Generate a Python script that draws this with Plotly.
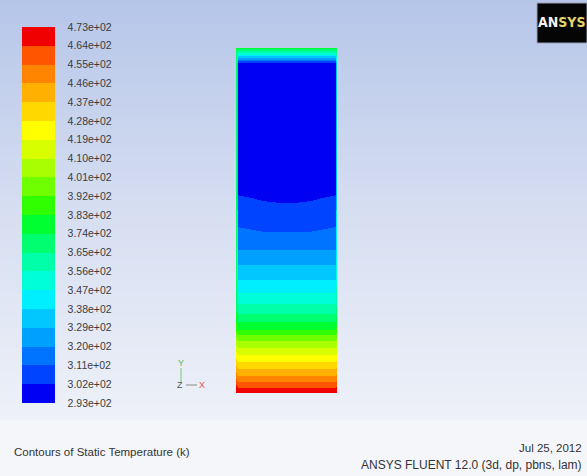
import plotly.graph_objects as go

# ---------------- data ----------------
# legend levels (K) and their labels
level_values = [293, 302, 311, 320, 329, 338, 347, 356, 365, 374, 383,
                392, 401, 410, 419, 428, 437, 446, 455, 464, 473]
level_labels = ["2.93e+02", "3.02e+02", "3.11e+02", "3.20e+02", "3.29e+02",
                "3.38e+02", "3.47e+02", "3.56e+02", "3.65e+02", "3.74e+02",
                "3.83e+02", "3.92e+02", "4.01e+02", "4.10e+02", "4.19e+02",
                "4.28e+02", "4.37e+02", "4.46e+02", "4.55e+02", "4.64e+02",
                "4.73e+02"]

# normalised height along the column (0 = bottom, 1 = top)
height = [0.000, 0.015, 0.032, 0.049, 0.070, 0.090, 0.110, 0.130, 0.151,
          0.168, 0.183, 0.206, 0.229, 0.258, 0.290, 0.328, 0.371, 0.414,
          0.467, 0.516, 0.551, 0.574, 0.704, 0.849, 0.957, 0.962, 0.974,
          0.986, 1.000]
# normalised position across the column
across = [0.0, 0.02, 0.25, 0.5, 0.75, 0.98, 1.0]

# static temperature (K) read at each height
temp_center = [470, 464, 455, 446, 437, 428, 419, 410, 401, 392, 383, 374,
               365, 356, 347, 338, 329, 320, 311, 305.7, 302, 300, 297, 296,
               300, 310, 330, 355, 375]
temp_quarter = [470, 464, 455, 446, 437, 428, 419, 410, 401, 392, 383, 374,
                365, 356, 347, 338, 329, 320, 311.3, 306.2, 302.5, 301, 297.5,
                296, 300, 310, 330, 355, 375]
temp_nearwall = [470, 464, 455, 446, 437, 428, 419, 410, 401, 392, 383, 374,
                 365, 356, 347, 338, 329, 320, 312.6, 307.5, 304.2, 302,
                 298.5, 296.5, 300, 310, 330, 355, 375]
temp_wall = [472, 469, 460, 451, 442, 433, 424, 415, 406, 397, 390, 382,
             375, 370, 370, 370, 370, 370, 370, 370, 370, 370, 370, 370,
             370, 370, 370, 372, 375]

# ---------------- styles ----------------
band_colors = ["#0000f2", "#0044ff", "#0074ff", "#00a0ff", "#00c8ff",
               "#00efff", "#00ffd8", "#00ffa8", "#00ff70", "#00ff30",
               "#30ff00", "#70ff00", "#a8ff00", "#d8ff00", "#ffff00",
               "#ffd800", "#ffb000", "#ff8400", "#ff5400", "#f00000"]
n = len(band_colors)
stepped = []
for i, c in enumerate(band_colors):
    stepped.append([i / n, c])
    stepped.append([(i + 1) / n, c])

W, H = 587, 476


def px(x):
    return x / W


def py(y):
    return 1 - y / H


z = [[w, e, q, c, q, e, w] for w, e, q, c in
     zip(temp_wall, temp_nearwall, temp_quarter, temp_center)]

fig = go.Figure()

# background gradient (drawn on the first subplot, below the field)
fig.add_trace(go.Heatmap(
    z=[[0, 0], [1, 1]], x=[0, 1], y=[0, 1],
    colorscale=[[0, "#eef1f8"], [0.5, "#d6def1"], [1, "#b6c6e9"]],
    zsmooth="best", showscale=False, hoverinfo="skip",
    xaxis="x", yaxis="y"))

fig.add_trace(go.Heatmap(
    z=z, x=across, y=height, zmin=level_values[0], zmax=level_values[-1],
    colorscale=stepped, zsmooth="best", hoverinfo="skip",
    xaxis="x2", yaxis="y2",
    colorbar=dict(
        x=px(22), xanchor="left", xref="paper",
        y=py(27), yanchor="top", yref="paper",
        len=376, lenmode="pixels", thickness=33, thicknessmode="pixels",
        xpad=0, ypad=0, outlinewidth=0, bgcolor="rgba(0,0,0,0)",
        tickmode="array", tickvals=level_values, ticktext=level_labels,
        ticks="outside", ticklen=11, tickcolor="rgba(0,0,0,0)",
        tickfont=dict(family="Liberation Sans, Arial", size=10.5,
                      color="#3c3c3c"))))

axis_off = dict(visible=False, showgrid=False, zeroline=False,
                fixedrange=True)
fig.update_layout(
    width=W, height=H, margin=dict(l=0, r=0, t=0, b=0),
    paper_bgcolor="#f5f6fa", plot_bgcolor="rgba(0,0,0,0)",
    showlegend=False,
    xaxis=dict(domain=[0, 1], range=[0, 1], **axis_off),
    yaxis=dict(domain=[py(420), 1], range=[0, 1], **axis_off),
    xaxis2=dict(domain=[px(236), px(337)], range=[0, 1], anchor="y2",
                **axis_off),
    yaxis2=dict(domain=[py(393), py(48)], range=[0, 1], anchor="x2",
                **axis_off),
)

# ANSYS logo
fig.add_shape(type="rect", xref="paper", yref="paper",
              x0=px(537), x1=1.0, y0=py(43), y1=py(3),
              fillcolor="#050505", line=dict(color="#9aa0b4", width=1))
fig.add_annotation(xref="paper", yref="paper", x=px(562), y=py(22),
                   xanchor="center", yanchor="middle", showarrow=False,
                   text="<b>AN<span style='color:#e6d36a'>SYS</span></b>",
                   font=dict(family="Liberation Sans Narrow, DejaVu Sans Condensed, Arial Narrow",
                             size=14, color="#f2f2f2"))

# axis triad
fig.add_shape(type="line", xref="paper", yref="paper",
              x0=px(181), x1=px(181), y0=py(368), y1=py(382),
              line=dict(color="#7cc87c", width=1))
fig.add_shape(type="line", xref="paper", yref="paper",
              x0=px(186), x1=px(197), y0=py(385), y1=py(385),
              line=dict(color="#8a8a8a", width=1))
for txt, x, y, col in [("Y", 181, 363, "#5cb85c"), ("Z", 180, 385, "#555555"),
                       ("X", 202, 385, "#e05050")]:
    fig.add_annotation(xref="paper", yref="paper", x=px(x), y=py(y),
                       xanchor="center", yanchor="middle", showarrow=False,
                       text=txt, font=dict(family="Liberation Sans, Arial",
                                           size=9, color=col))

# footer texts
fig.add_annotation(xref="paper", yref="paper", x=px(12), y=py(452),
                   xanchor="left", yanchor="middle", showarrow=False,
                   text="Contours of Static Temperature (k)",
                   font=dict(family="Liberation Sans, Arial", size=11.5,
                             color="#333333"))
fig.add_annotation(xref="paper", yref="paper", x=px(584), y=py(448),
                   xanchor="right", yanchor="middle", showarrow=False,
                   text="Jul 25, 2012",
                   font=dict(family="Liberation Sans, Arial", size=11.5,
                             color="#333333"))
fig.add_annotation(xref="paper", yref="paper", x=px(584), y=py(465),
                   xanchor="right", yanchor="middle", showarrow=False,
                   text="ANSYS FLUENT 12.0 (3d, dp, pbns, lam)",
                   font=dict(family="Liberation Sans, Arial", size=12,
                             color="#333333"))

fig.write_html(
    "out.html",
    config={"displayModeBar": False},
    post_script="document.body.style.margin='0';"
                "document.body.style.overflow='hidden';")
